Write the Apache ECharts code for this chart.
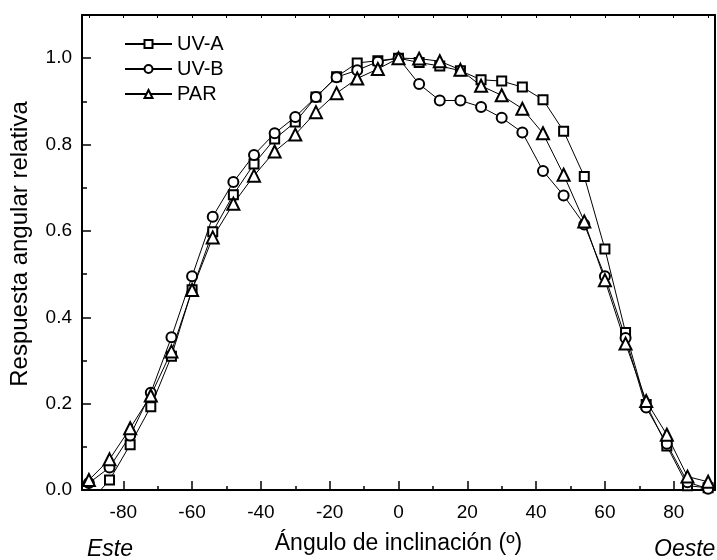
<!DOCTYPE html>
<html>
<head>
<meta charset="utf-8">
<script src="https://cdn.jsdelivr.net/npm/echarts@6/dist/echarts.min.js"></script>
<style>html,body{margin:0;padding:0;background:#fff}#c{width:717px;height:560px}</style>
</head>
<body>
<div id="c"></div>
<script>
const angles = [-90,-84,-78,-72,-66,-60,-54,-48,-42,-36,-30,-24,-18,-12,-6,0,6,12,18,24,30,36,42,48,54,60,66,72,78,84,90];
const uvA = [-0.03,0.023,0.105,0.193,0.31,0.464,0.598,0.684,0.755,0.813,0.852,0.91,0.957,0.989,0.994,1.0,0.99,0.982,0.971,0.95,0.947,0.933,0.904,0.831,0.726,0.558,0.365,0.198,0.102,0.01,0.005];
const uvB = [0.016,0.052,0.126,0.225,0.354,0.495,0.633,0.713,0.776,0.826,0.864,0.91,0.956,0.972,0.992,1.0,0.94,0.902,0.902,0.887,0.862,0.828,0.739,0.682,0.615,0.495,0.352,0.191,0.107,0.018,0.003];
const par = [0.023,0.071,0.143,0.219,0.321,0.463,0.585,0.663,0.728,0.784,0.823,0.875,0.919,0.953,0.975,1.0,0.999,0.993,0.973,0.936,0.914,0.883,0.826,0.73,0.622,0.486,0.339,0.206,0.128,0.031,0.019];
const seriesNames = ['UV-A','UV-B','PAR'];
const xMajor = [-80,-60,-40,-20,0,20,40,60,80];
const xMinor = [-90,-70,-50,-30,-10,10,30,50,70,90];
const xTop = [-90,-80,-70,-60,-50,-40,-30,-20,-10,0,10,20,30,40,50,60,70,80,90];
const yMajor = [0,0.2,0.4,0.6,0.8,1.0];
const yMinor = [0.1,0.3,0.5,0.7,0.9];

const FONT = 'Liberation Sans';
const chart = echarts.init(document.getElementById('c'));
const pair = (xs, ys) => xs.map((x, i) => [x, ys[i]]);
const lineStyle = {color:'#000', width:1};
const mk = (name, data, symbol, size) => ({
  name, type:'line', data: pair(angles, data), symbol, symbolSize: size,
  itemStyle:{color:'#000', borderColor:'#000', borderWidth:1},
  lineStyle, clip:true, animation:false
});
chart.setOption({
  animation:false,
  textStyle:{fontFamily:FONT},
  grid:{left:82, right:2, top:15, bottom:65, containLabel:false},
  legend:{
    orient:'vertical', left:119, top:29, itemWidth:47, itemHeight:10, itemGap:5,
    textStyle:{fontFamily:FONT, fontSize:20, color:'#000'},
    data: seriesNames
  },
  xAxis:[
    {type:'value', min:-92, max:92, position:'bottom',
     axisLine:{show:true, onZero:false, lineStyle:{color:'#000', width:2}},
     axisTick:{show:true, inside:true, length:9, customValues:xMajor, lineStyle:{color:'#000', width:1.5}},
     axisLabel:{show:true, customValues:xMajor, margin:13, fontSize:19, color:'#000', fontFamily:FONT},
     splitLine:{show:false},
     name:'Ángulo de inclinación (º)', nameLocation:'middle', nameGap:42,
     nameTextStyle:{fontFamily:FONT, fontSize:23, color:'#000'}},
    {type:'value', min:-92, max:92, position:'bottom', gridIndex:0,
     axisLine:{show:false, onZero:false},
     axisTick:{show:true, inside:true, length:4, customValues:xMinor, lineStyle:{color:'#000', width:1.5}},
     axisLabel:{show:false}, splitLine:{show:false}},
    {type:'value', min:-92, max:92, position:'top',
     axisLine:{show:true, onZero:false, lineStyle:{color:'#000', width:2}},
     axisTick:{show:true, inside:true, length:3, customValues:xTop, lineStyle:{color:'#000', width:1}},
     axisLabel:{show:false}, splitLine:{show:false}}
  ],
  yAxis:[
    {type:'value', min:0, max:1.1, position:'left',
     axisLine:{show:true, onZero:false, lineStyle:{color:'#000', width:2}},
     axisTick:{show:true, inside:true, length:9, customValues:yMajor, lineStyle:{color:'#000', width:1.5}},
     axisLabel:{show:true, customValues:yMajor, margin:10, fontSize:19, color:'#000', fontFamily:FONT,
       formatter:(v)=>v.toFixed(1)},
     splitLine:{show:false}},
    {type:'value', min:0, max:1.1, position:'left',
     axisLine:{show:false, onZero:false},
     axisTick:{show:true, inside:true, length:5, customValues:yMinor, lineStyle:{color:'#000', width:1.5}},
     axisLabel:{show:false}, splitLine:{show:false}},
    {type:'value', min:0, max:1.1, position:'right',
     axisLine:{show:true, onZero:false, lineStyle:{color:'#000', width:2}},
     axisTick:{show:false}, axisLabel:{show:false}, splitLine:{show:false}}
  ],
  graphic:[
    {type:'text', left:87, top:538, style:{text:'Este', font:'italic 23px "Liberation Sans"', fill:'#000'}},
    {type:'text', left:654, top:538, style:{text:'Oeste', font:'italic 23px "Liberation Sans"', fill:'#000'}},
    {type:'text', x:20, y:244, rotation:Math.PI/2,
     style:{text:'Respuesta angular relativa', font:'24px "Liberation Sans"', fill:'#000', align:'center', verticalAlign:'middle'}}
  ],
  series:[
    mk('UV-A', uvA, 'emptyRect', 9),
    mk('UV-B', uvB, 'emptyCircle', 10),
    mk('PAR', par, 'emptyTriangle', 12)
  ]
});
</script>
</body>
</html>
